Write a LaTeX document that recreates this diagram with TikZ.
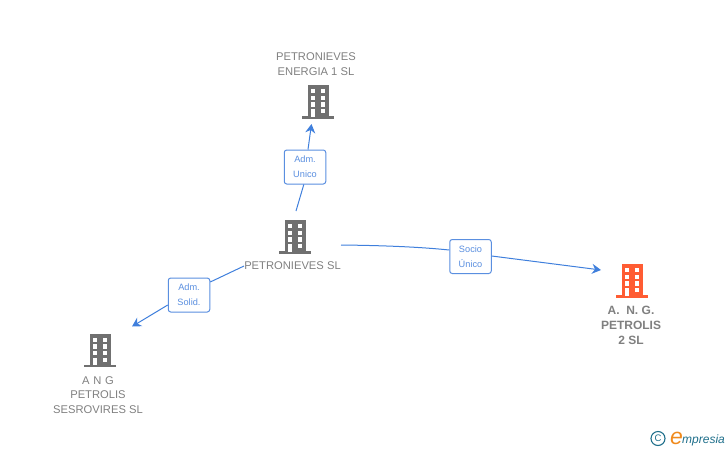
\documentclass[tikz,border=0pt]{standalone}
\usepackage{fontspec}
\setmainfont{Liberation Sans}
\usetikzlibrary{arrows.meta}
\definecolor{linkblue}{HTML}{3F7FDC}
\definecolor{boxblue}{HTML}{5A8FE0}
\definecolor{labelblue}{HTML}{5A8FE0}
\definecolor{bldgray}{HTML}{707070}
\definecolor{bldorange}{HTML}{FF5C33}
\definecolor{txtgray}{HTML}{808080}
\definecolor{logoteal}{HTML}{1F6F8B}
\definecolor{logoorange}{HTML}{F08A1D}
\tikzset{
  x=1pt,y=-1pt,
  building/.pic={
    \fill[pic actions] (-10.5,-33.7) rectangle (11,-1.5);
    \fill[pic actions] (-16,-2.8) rectangle (16,0);
    \foreach \wy in {-29.7,-23,-16.4}{
      \fill[white] (-7.3,\wy) rectangle (-2.8,\wy+4.4);
      \fill[white] (2.5,\wy) rectangle (7,\wy+4.4);
    }
    \fill[white] (-7.3,-9.7) rectangle (-2.8,-1.9);
    \fill[white] (2.5,-9.7) rectangle (7,-5.3);
  },
  namelabel/.style={font=\fontsize{11.2}{14.5}\selectfont,text=txtgray,align=center,inner sep=0pt},
  rolebox/.style={draw=boxblue,line width=1pt,rounded corners=2.5pt,fill=white,
    minimum width=41.5pt,minimum height=34pt,inner sep=0pt,align=center,
    text=labelblue,font=\fontsize{9.2}{15}\selectfont},
  link/.style={draw=linkblue,line width=1pt},
  linkarrow/.style={link,-{Stealth[length=9pt,width=10pt,inset=3pt]}}
}
\begin{document}
\begin{tikzpicture}
\useasboundingbox (0,0) rectangle (728,450);
% buildings
\pic[fill=bldgray] at (318,118.7) {building};
\pic[fill=bldgray] at (295,253.7) {building};
\pic[fill=bldorange] at (632,297.7) {building};
\pic[fill=bldgray] at (100,367.3) {building};
% names
\node[namelabel] (energia) at (316,64) {PETRONIEVES\\ENERGIA 1 SL};
\node[namelabel] (petro) at (292.5,266) {PETRONIEVES SL};
\node[namelabel,font=\fontsize{12}{15}\selectfont\bfseries] (ang2) at (631,325) {A.\ \ N. G.\\PETROLIS\\2 SL};
\node[namelabel] (sesro) at (98,395) {A\,\,N\,\,G\\PETROLIS\\SESROVIRES SL};
% role boxes
\node[rolebox] (adm1) at (305,167) {Adm.\\Unico};
\node[rolebox] (adm2) at (189,295) {Adm.\\Solid.};
\node[rolebox] (socio) at (470.5,256.5) {Socio\\Único};
% connector ends
\coordinate (s1) at (296,211);
\coordinate (e1) at (311.5,124);
\coordinate (s2) at (244,266);
\coordinate (e2) at (132,326.5);
\coordinate (s3) at (341,245);
\coordinate (e3) at (601,270);
% connectors
\draw[link] (s1) -- (adm1.south -| 303.8,0);
\draw[linkarrow] (adm1.north -| 308,0) -- (e1);
\draw[link] (s2) -- (adm2.east |- 0,282);
\draw[linkarrow] (adm2.west |- 0,305) -- (e2);
\draw[link] (s3) .. controls (385,245.5) and (420,247) .. (socio.west |- 0,250);
\draw[linkarrow] (socio.east |- 0,256) -- (e3);
% logo
\node[draw=logoteal,circle,line width=1.1pt,minimum size=14pt,inner sep=0pt,text=logoteal,font=\fontsize{9.5}{9.5}\selectfont] (copy) at (658,438.5) {C};
\node[inner sep=0pt,anchor=base west,text=logoorange,font=\fontsize{23}{23}\selectfont\itshape] (elogo) at (670,444.5) {e};
\node[inner sep=0pt,anchor=base west,text=logoteal,font=\fontsize{12}{12}\selectfont\itshape] (mpresia) at (682,443) {mpresia};
\end{tikzpicture}
\end{document}
